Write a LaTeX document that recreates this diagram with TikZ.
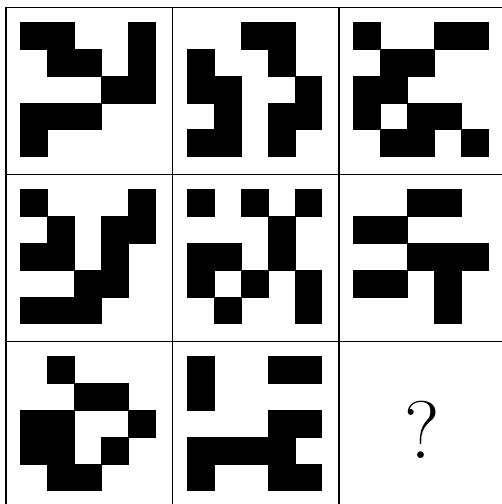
\documentclass[tikz,border=0pt]{standalone}
\usepackage{tikz}

\tikzset{
  gridline/.style={line width=1.3pt},
  blk/.style={fill=black, draw=black, line width=0.2pt}
}
\newcommand{\sq}{26.9}

\begin{document}
\begin{tikzpicture}[x=1bp, y=-1bp]
          % page size of the reference
          \useasboundingbox (0,0) rectangle (502,504);

          % table lines (right and bottom edges lie off the page)
          \foreach \gx in {6,172.5,339}
            \draw[gridline] (\gx,7.5) -- (\gx,504);
          \foreach \gy in {7.5,174.5,341.5}
            \draw[gridline] (6,\gy) -- (502,\gy);

          % row 1
          \begin{scope}[shift={(20.5,22)}]
            \foreach \c/\r in {0/0,1/0,4/0,1/1,2/1,4/1,3/2,4/2,0/3,1/3,2/3,0/4}
              \fill[blk] (\c*\sq,\r*\sq) rectangle ++(\sq,\sq);
          \end{scope}
          \begin{scope}[shift={(187,22)}]
            \foreach \c/\r in {2/0,3/0,0/1,3/1,0/2,1/2,4/2,1/3,3/3,4/3,0/4,1/4,3/4}
              \fill[blk] (\c*\sq,\r*\sq) rectangle ++(\sq,\sq);
          \end{scope}
          \begin{scope}[shift={(353.5,22)}]
            \foreach \c/\r in {0/0,3/0,4/0,1/1,2/1,0/2,1/2,0/3,2/3,3/3,1/4,2/4,4/4}
              \fill[blk] (\c*\sq,\r*\sq) rectangle ++(\sq,\sq);
          \end{scope}

          % row 2
          \begin{scope}[shift={(20.5,189)}]
            \foreach \c/\r in {0/0,4/0,1/1,3/1,4/1,0/2,1/2,3/2,2/3,3/3,0/4,1/4,2/4}
              \fill[blk] (\c*\sq,\r*\sq) rectangle ++(\sq,\sq);
          \end{scope}
          \begin{scope}[shift={(187,189)}]
            \foreach \c/\r in {0/0,2/0,4/0,3/1,0/2,1/2,3/2,0/3,2/3,4/3,1/4,4/4}
              \fill[blk] (\c*\sq,\r*\sq) rectangle ++(\sq,\sq);
          \end{scope}
          \begin{scope}[shift={(353.5,189)}]
            \foreach \c/\r in {2/0,3/0,0/1,1/1,2/2,3/2,4/2,0/3,1/3,3/3,3/4}
              \fill[blk] (\c*\sq,\r*\sq) rectangle ++(\sq,\sq);
          \end{scope}

          % row 3
          \begin{scope}[shift={(20.5,356)}]
            \foreach \c/\r in {1/0,2/1,3/1,0/2,1/2,4/2,0/3,1/3,3/3,1/4,2/4}
              \fill[blk] (\c*\sq,\r*\sq) rectangle ++(\sq,\sq);
          \end{scope}
          \begin{scope}[shift={(187,356)}]
            \foreach \c/\r in {0/0,3/0,4/0,0/1,3/2,4/2,0/3,1/3,2/3,3/3,0/4,3/4,4/4}
              \fill[blk] (\c*\sq,\r*\sq) rectangle ++(\sq,\sq);
          \end{scope}

          % missing cell
          \node[inner sep=0pt, font=\fontsize{82}{82}\selectfont] (ask) at (422,430) {?};
\end{tikzpicture}
\end{document}
